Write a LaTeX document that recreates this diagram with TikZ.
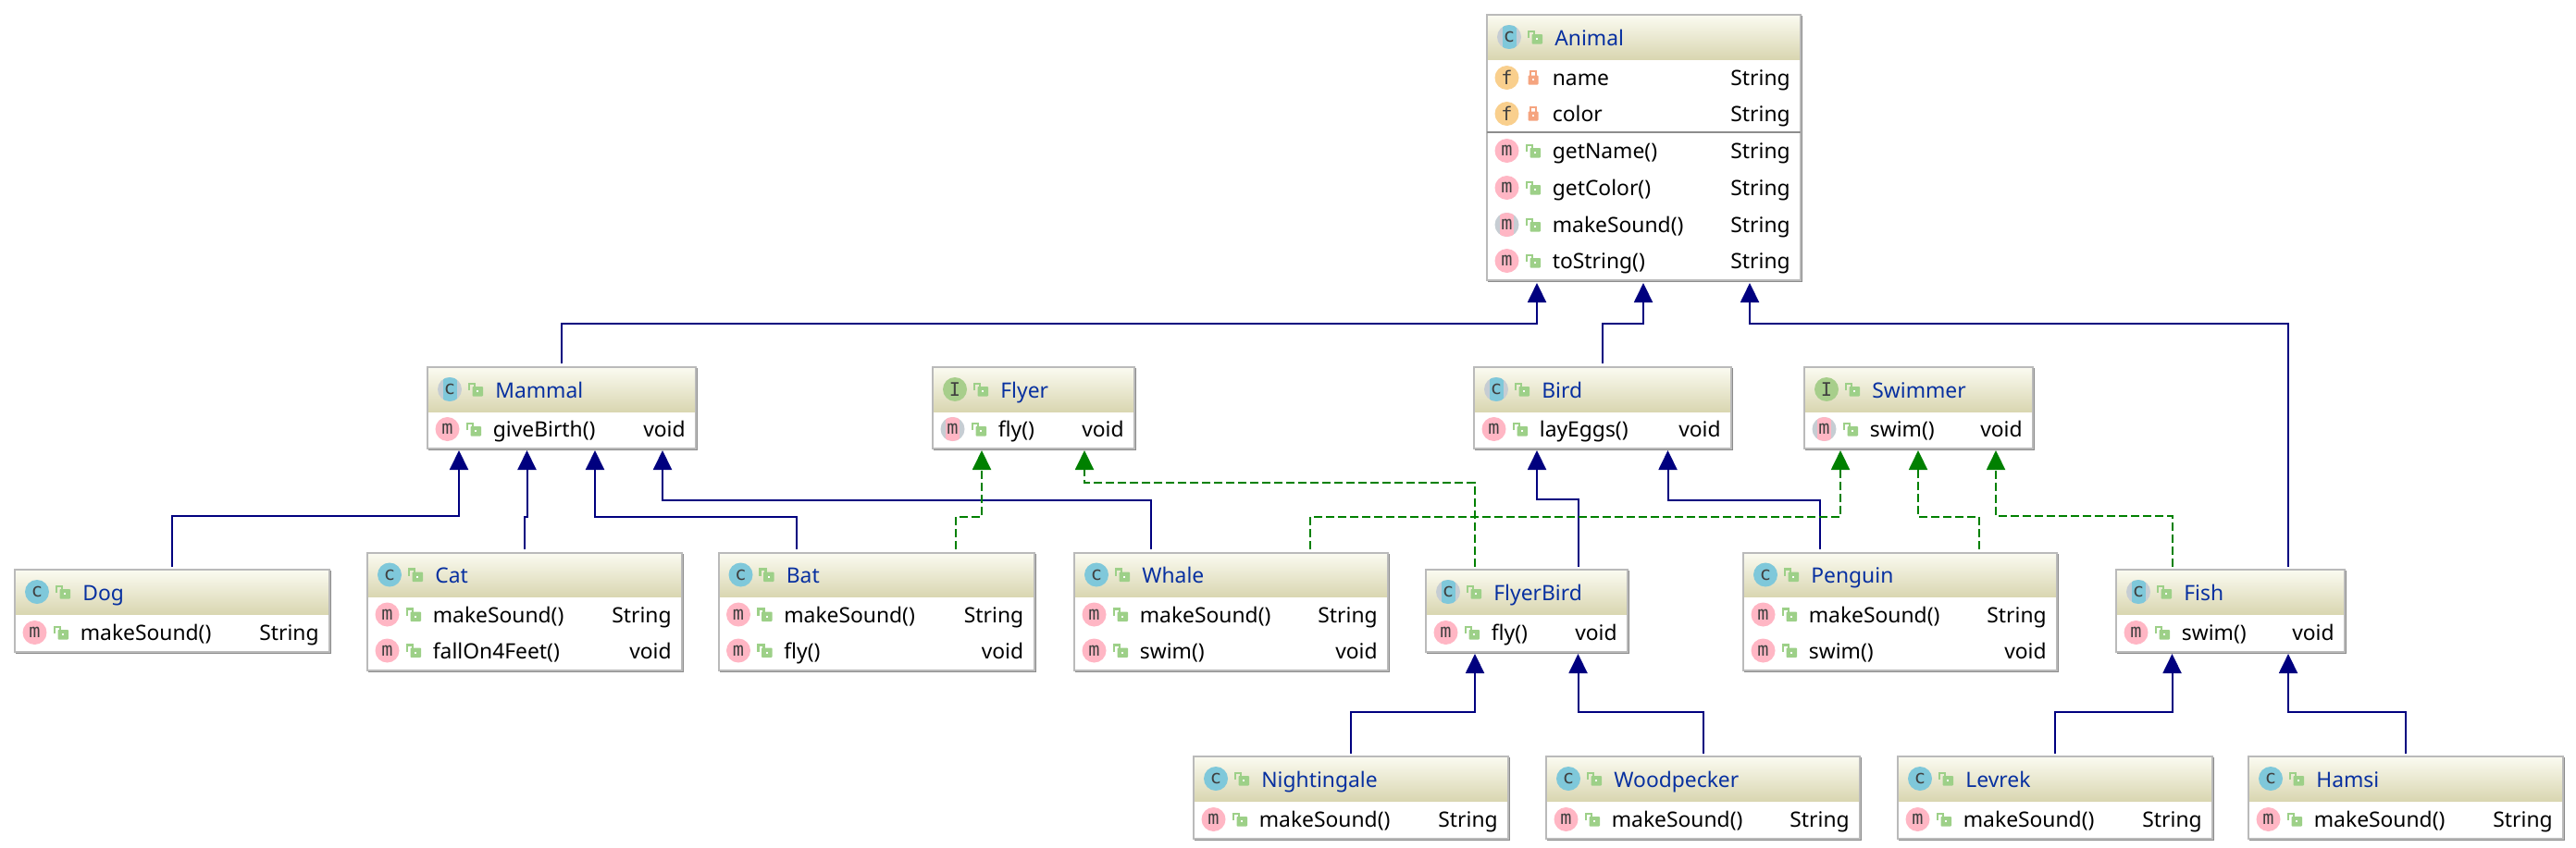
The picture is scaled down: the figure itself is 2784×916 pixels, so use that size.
\documentclass[tikz,border=0pt]{standalone}
\usepackage{fontspec}
\setmainfont{Noto Sans}
\newfontfamily\iconfont{DejaVu Sans Mono}
\usetikzlibrary{arrows.meta}

\definecolor{headtop}{HTML}{FBFBF1}
\definecolor{headbottom}{HTML}{D9D6B1}
\definecolor{titleblue}{HTML}{0730A0}
\definecolor{classcyan}{HTML}{7FC8DA}
\definecolor{ifacegreen}{HTML}{A7CE8B}
\definecolor{fieldorange}{HTML}{F9CF8D}
\definecolor{methodpink}{HTML}{FFB6C4}
\definecolor{abstractgray}{HTML}{C6CDD3}
\definecolor{lockgreen}{HTML}{9DD088}
\definecolor{lockorange}{HTML}{F5A47F}
\definecolor{extendblue}{HTML}{00007F}
\definecolor{implementgreen}{HTML}{008000}

% name, icon style, title, centre x, centre y, width, height
\newcommand{\umlclass}[7]{
    \node (#1) at (#4, #5) [classbox, minimum width=#6*0.02cm, minimum height=#7*0.02cm] {};
    \shade [top color=headtop, bottom color=headbottom] (#1.north west) rectangle ([shift={(0, 48)}]#1.north east);
    \draw [classshadow] ([shift={(1, 1)}]#1.south west) -- ([shift={(1, 1)}]#1.south east) -- ([shift={(1, 1)}]#1.north east);
    \draw [classborder] (#1.north west) rectangle (#1.south east);
    \node (#1-icon) at ([shift={(24, 24)}]#1.north west) [#2];
    \pic at ([shift={(52, 24)}]#1.north west) {lockopen};
    \node (#1-title) at ([shift={(73, 33)}]#1.north west) [titletext] {#3};
}
% class, row offset, icon style, lock, text, type
\newcommand{\member}[6]{
    \node (#1-#2-icon) at ([shift={(21.5, #2)}]#1.north west) [#3];
    \pic at ([shift={(50, #2)}]#1.north west) {#4};
    \node (#1-#2-text) at ([shift={(70.5, #2 + 8.5)}]#1.north west) [membertext] {#5};
    \node (#1-#2-type) at ([shift={(-11, #2 + 8.5)}]#1.north east) [typetext] {#6};
}

\begin{document}
\begin{tikzpicture}[
    x=0.02cm, y=-0.02cm,
    classbox/.style={rectangle,fill=white,inner sep=0pt,outer sep=0pt},
    classborder/.style={draw=black!27,line width=0.04cm},
    classshadow/.style={draw=black!45,line width=0.05cm},
    icon/.style={circle,inner sep=0pt,minimum size=0.52cm,text=black!75,font=\iconfont\fontsize{11.5}{11.5}\selectfont},
    abstract/.style={icon,fill=abstractgray,path picture={
        \fill [#1] ([xshift=-0.15cm]path picture bounding box.north) rectangle ([xshift=0.15cm]path picture bounding box.south);}},
    iconc/.style={icon,fill=classcyan,node contents=c},
    iconac/.style={abstract=classcyan,node contents=c},
    iconi/.style={icon,fill=ifacegreen,node contents=I},
    iconf/.style={icon,fill=fieldorange,node contents=f},
    iconm/.style={icon,fill=methodpink,node contents=m},
    iconam/.style={abstract=methodpink,node contents=m},
    titletext/.style={anchor=base west,inner sep=0pt,text=titleblue,font=\fontsize{13}{15}\selectfont},
    membertext/.style={anchor=base west,inner sep=0pt,font=\fontsize{13}{15}\selectfont},
    typetext/.style={anchor=base east,inner sep=0pt,font=\fontsize{13}{15}\selectfont},
    lockopen/.pic={
        \fill [lockgreen,rounded corners=0.5pt] (-3.5, -3) rectangle (8, 7.5);
        \fill [white] (1, 1) rectangle (3, 3);
        \draw [lockgreen,line width=0.05cm] (-7, 1) -- (-7, -6) -- (-1, -6) -- (-1, -3);
    },
    lockclosed/.pic={
        \fill [lockorange,rounded corners=0.5pt] (-5.5, -2.5) rectangle (5.5, 7.5);
        \fill [white] (-1, 1) rectangle (1, 3);
        \draw [lockorange,line width=0.05cm] (-3, -2) -- (-3, -7) -- (3, -7) -- (3, -2);
    },
    extends/.style={draw=extendblue,line width=0.04cm,-{Triangle[length=4.2mm,width=4mm,fill=extendblue]}},
    implements/.style={draw=implementgreen,line width=0.04cm,dash pattern=on 0.18cm off 0.08cm,-{Triangle[length=4.2mm,width=4mm,fill=implementgreen]}}
    ]

    \useasboundingbox [fill=white] (0, 0) rectangle (2784, 916);

    \umlclass{Animal}{iconac}{Animal}{1776.5}{159.5}{339}{287}
    \member{Animal}{68}{iconf}{lockclosed}{name}{String}
    \member{Animal}{107}{iconf}{lockclosed}{color}{String}
    \draw [classshadow] ([shift={(0, 127)}]Animal.north west) -- ([shift={(0, 127)}]Animal.north east);
    \member{Animal}{147}{iconm}{lockopen}{getName()}{String}
    \member{Animal}{187}{iconm}{lockopen}{getColor()}{String}
    \member{Animal}{227}{iconam}{lockopen}{makeSound()}{String}
    \member{Animal}{266}{iconm}{lockopen}{toString()}{String}

    \umlclass{Mammal}{iconac}{Mammal}{607}{441}{290}{88}
    \member{Mammal}{67}{iconm}{lockopen}{giveBirth()}{void}
    \umlclass{Flyer}{iconi}{Flyer}{1117}{441}{218}{88}
    \member{Flyer}{67}{iconam}{lockopen}{fly()}{void}
    \umlclass{Bird}{iconac}{Bird}{1732}{441}{278}{88}
    \member{Bird}{67}{iconm}{lockopen}{layEggs()}{void}
    \umlclass{Swimmer}{iconi}{Swimmer}{2073.5}{441}{247}{88}
    \member{Swimmer}{67}{iconam}{lockopen}{swim()}{void}

    \umlclass{Dog}{iconc}{Dog}{186}{660.5}{340}{89}
    \member{Dog}{68}{iconm}{lockopen}{makeSound()}{String}
    \umlclass{Cat}{iconc}{Cat}{567}{661}{340}{127}
    \member{Cat}{67}{iconm}{lockopen}{makeSound()}{String}
    \member{Cat}{106}{iconm}{lockopen}{fallOn4Feet()}{void}
    \umlclass{Bat}{iconc}{Bat}{947}{661}{341}{127}
    \member{Bat}{67}{iconm}{lockopen}{makeSound()}{String}
    \member{Bat}{106}{iconm}{lockopen}{fly()}{void}
    \umlclass{Whale}{iconc}{Whale}{1330.5}{661}{339}{127}
    \member{Whale}{67}{iconm}{lockopen}{makeSound()}{String}
    \member{Whale}{106}{iconm}{lockopen}{swim()}{void}
    \umlclass{FlyerBird}{iconac}{FlyerBird}{1650}{660.5}{218}{89}
    \member{FlyerBird}{68}{iconm}{lockopen}{fly()}{void}
    \umlclass{Penguin}{iconc}{Penguin}{2053.5}{661}{339}{127}
    \member{Penguin}{67}{iconm}{lockopen}{makeSound()}{String}
    \member{Penguin}{106}{iconm}{lockopen}{swim()}{void}
    \umlclass{Fish}{iconac}{Fish}{2410.5}{660.5}{247}{89}
    \member{Fish}{68}{iconm}{lockopen}{swim()}{void}

    \umlclass{Nightingale}{iconc}{Nightingale}{1460}{862.5}{340}{89}
    \member{Nightingale}{68}{iconm}{lockopen}{makeSound()}{String}
    \umlclass{Woodpecker}{iconc}{Woodpecker}{1840.5}{862.5}{339}{89}
    \member{Woodpecker}{68}{iconm}{lockopen}{makeSound()}{String}
    \umlclass{Levrek}{iconc}{Levrek}{2221}{862.5}{340}{89}
    \member{Levrek}{68}{iconm}{lockopen}{makeSound()}{String}
    \umlclass{Hamsi}{iconc}{Hamsi}{2600}{862.5}{340}{89}
    \member{Hamsi}{68}{iconm}{lockopen}{makeSound()}{String}

    % green ones go over the blue ones
    \draw [extends] ([shift={(0, -4)}]Mammal.north) -- ++(0, -43) -| ([shift={(54, 3)}]Animal.south west);
    \draw [extends] ([shift={(0, -4)}]Bird.north) -- ++(0, -43) -| ([shift={(169, 3)}]Animal.south west);
    \draw [extends] ([shift={(186, -3)}]Fish.north west) -- ++(0, -263) -| ([shift={(284, 3)}]Animal.south west);
    \draw [extends] ([shift={(0, -3)}]Dog.north) -- ++(0, -55) -| ([shift={(34, 2)}]Mammal.south west);
    \draw [extends] ([shift={(0, -4)}]Cat.north) -- ++(0, -35) -| ([shift={(107.5, 2)}]Mammal.south west);
    \draw [extends] ([shift={(84, -4)}]Bat.north west) -- ++(0, -35) -| ([shift={(181, 2)}]Mammal.south west);
    \draw [extends] ([shift={(83, -4)}]Whale.north west) -- ++(0, -53) -| ([shift={(254, 2)}]Mammal.south west);
    \draw [extends] ([shift={(164.5, -3)}]FlyerBird.north west) -- ++(0, -73) -| ([shift={(68, 2)}]Bird.south west);
    \draw [extends] ([shift={(83, -4)}]Penguin.north west) -- ++(0, -53) -| ([shift={(209.5, 2)}]Bird.south west);
    \draw [extends] ([shift={(0, -3)}]Nightingale.north) -- ++(0, -45) -| ([shift={(53, 2)}]FlyerBird.south west);
    \draw [extends] ([shift={(0, -3)}]Woodpecker.north) -- ++(0, -45) -| ([shift={(164.5, 2)}]FlyerBird.south west);
    \draw [extends] ([shift={(0, -3)}]Levrek.north) -- ++(0, -45) -| ([shift={(60.5, 2)}]Fish.south west);
    \draw [extends] ([shift={(0, -3)}]Hamsi.north) -- ++(0, -45) -| ([shift={(186, 2)}]Fish.south west);

    \draw [implements] ([shift={(256, -4)}]Bat.north west) -- ++(0, -35) -| ([shift={(53, 2)}]Flyer.south west);
    \draw [implements] ([shift={(53, -3)}]FlyerBird.north west) -- ++(0, -91) -| ([shift={(164, 2)}]Flyer.south west);
    \draw [implements] ([shift={(255, -4)}]Whale.north west) -- ++(0, -35) -| ([shift={(39, 2)}]Swimmer.south west);
    \draw [implements] ([shift={(255, -4)}]Penguin.north west) -- ++(0, -35) -| ([shift={(123, 2)}]Swimmer.south west);
    \draw [implements] ([shift={(60.5, -3)}]Fish.north west) -- ++(0, -55) -| ([shift={(207, 2)}]Swimmer.south west);

\end{tikzpicture}
\end{document}
